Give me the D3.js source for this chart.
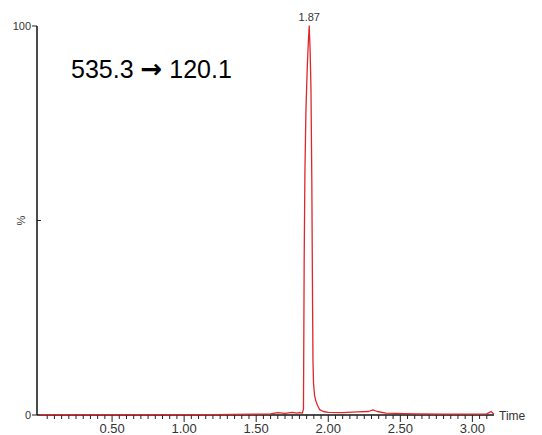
<!DOCTYPE html>
<html>
<head>
<meta charset="utf-8">
<script src="https://cdn.jsdelivr.net/npm/d3@7"></script>
<style>
  body { margin: 0; background: #fff; }
  svg { display: block; font-family: "Liberation Sans", Arial, sans-serif; }
</style>
</head>
<body>
<div id="chart"></div>
<script>
// chromatogram trace (time in min, intensity in %)
const times = [0.00, 0.40, 0.80, 1.20, 1.50, 1.60, 1.65, 1.70, 1.75, 1.78, 1.80, 1.82, 1.828,
  1.833, 1.838, 1.845, 1.855, 1.862, 1.868, 1.874, 1.880, 1.886, 1.890, 1.894, 1.898,
  1.905, 1.915, 1.925, 1.94, 1.965, 2.00, 2.10, 2.20, 2.28, 2.31, 2.34, 2.40, 2.60, 2.80,
  3.00, 3.10, 3.13, 3.15];
const intensity = [0.1, 0.1, 0.1, 0.1, 0.2, 0.3, 0.6, 0.4, 0.7, 0.5, 0.6, 0.5, 1.5,
  40, 62, 78, 90, 96, 100, 94, 84, 60, 35, 14, 8,
  5, 3.5, 2.5, 1.4, 0.9, 0.7, 0.6, 0.8, 0.9, 1.3, 0.9, 0.5, 0.3, 0.2,
  0.2, 0.3, 0.9, 0.2];
const xTickValues = [0.5, 1.0, 1.5, 2.0, 2.5, 3.0];
const yTickValues = [0, 100];
const peakLabel = "1.87";
const peakTime = 1.868;
const precursor = "535.3";
const product = "120.1";

const width = 542;
const height = 435;

const svg = d3.select("#chart")
  .append("svg")
  .attr("width", width)
  .attr("height", height);

const x = d3.scaleLinear().domain([0, 3.15]).range([40, 494]);
const y = d3.scaleLinear().domain([0, 100]).range([415, 26]);

const data = times.map((t, i) => ({ t: t, v: intensity[i] }));

// x axis: minor ticks every 0.05, longer at labelled values
svg.append("line")
  .attr("x1", 37).attr("x2", x(3.15))
  .attr("y1", y(0)).attr("y2", y(0))
  .attr("stroke", "#111").attr("stroke-width", 1.5);

const minor = d3.range(0, 63).map(i => +(i * 0.05).toFixed(2)).filter(d => d > 0);
svg.append("g")
  .selectAll("line")
  .data(minor)
  .join("line")
  .attr("x1", d => x(d)).attr("x2", d => x(d))
  .attr("y1", y(0))
  .attr("y2", d => xTickValues.some(v => Math.abs(v - d) < 1e-6) ? y(0) + 7 : y(0) + 4)
  .attr("stroke", "#222").attr("stroke-width", 1);

svg.append("g")
  .selectAll("text")
  .data(xTickValues)
  .join("text")
  .attr("x", d => x(d))
  .attr("y", 433)
  .attr("text-anchor", "middle")
  .attr("font-size", "13px")
  .attr("fill", "#333")
  .text(d => d.toFixed(2));

svg.append("text")
  .attr("x", 499)
  .attr("y", 420)
  .attr("font-size", "12px")
  .attr("fill", "#333")
  .text("Time");

// y axis
svg.append("line")
  .attr("x1", 37).attr("x2", 37)
  .attr("y1", y(100)).attr("y2", y(0))
  .attr("stroke", "#111").attr("stroke-width", 1.5);

svg.append("g")
  .selectAll("line")
  .data(yTickValues)
  .join("line")
  .attr("x1", 32).attr("x2", 37)
  .attr("y1", d => y(d)).attr("y2", d => y(d))
  .attr("stroke", "#222");

svg.append("line")
  .attr("x1", 37).attr("x2", 41)
  .attr("y1", y(50)).attr("y2", y(50))
  .attr("stroke", "#222");

svg.append("g")
  .selectAll("text")
  .data(yTickValues)
  .join("text")
  .attr("x", 31)
  .attr("y", d => y(d) + 4)
  .attr("text-anchor", "end")
  .attr("font-size", "11px")
  .attr("fill", "#333")
  .text(d => d);

svg.append("text")
  .attr("transform", `translate(25,${y(50)}) rotate(-90)`)
  .attr("text-anchor", "middle")
  .attr("font-size", "11px")
  .attr("fill", "#333")
  .text("%");

// trace
const line = d3.line()
  .x(d => x(d.t))
  .y(d => y(d.v));

svg.append("path")
  .datum(data)
  .attr("fill", "none")
  .attr("stroke", "#e0262b")
  .attr("stroke-width", 1.3)
  .attr("stroke-linejoin", "round")
  .attr("d", line);

// peak label + transition
svg.append("text")
  .attr("x", x(peakTime))
  .attr("y", 21)
  .attr("text-anchor", "middle")
  .attr("font-size", "11px")
  .attr("fill", "#333")
  .text(peakLabel);

const trans = svg.append("text")
  .attr("x", 71)
  .attr("y", 78)
  .attr("font-size", "25px")
  .attr("fill", "#000");
trans.append("tspan").text(precursor + " ");
trans.append("tspan")
  .attr("font-family", "DejaVu Sans")
  .attr("font-weight", "bold")
  .attr("font-size", "26px")
  .text("\u2192");
trans.append("tspan").text(" " + product);
</script>
</body>
</html>
